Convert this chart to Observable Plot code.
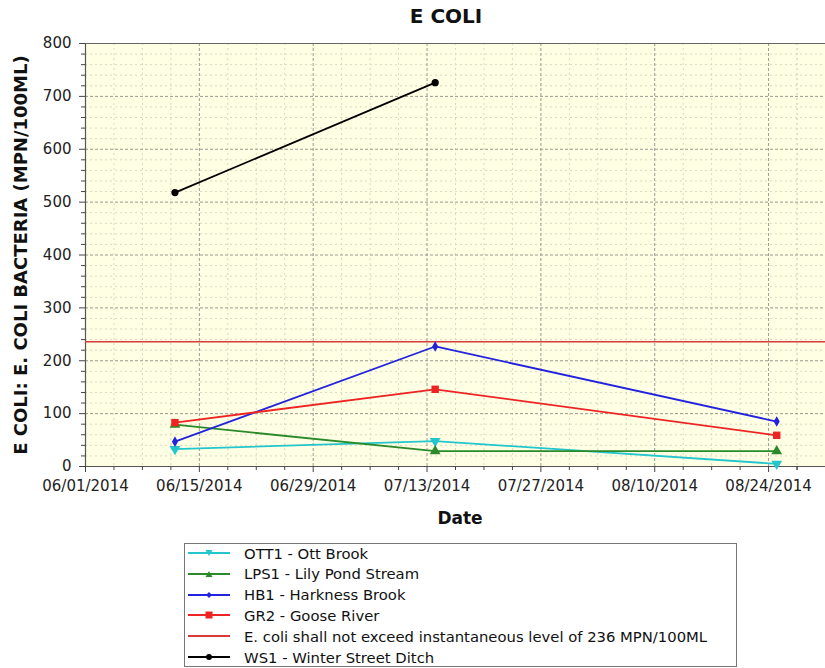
<!DOCTYPE html>
<html>
<head>
<meta charset="utf-8">
<script src="https://cdn.jsdelivr.net/npm/d3@7"></script>
<script src="https://cdn.jsdelivr.net/npm/@observablehq/plot@0.6"></script>
<style>
  html, body { margin: 0; padding: 0; background: #fff; overflow: hidden; }
  #wrap { position: relative; width: 825px; height: 668px; font-family: "DejaVu Sans", sans-serif; color: #111; }
  #chart { position: absolute; left: 0; top: 0; }
  .title { position: absolute; left: 346px; width: 200px; top: 6px; text-align: center; font-weight: bold; font-size: 20px; line-height: 20px; }
  .ylab { position: absolute; left: -229px; top: 246px; width: 500px; text-align: center; font-weight: bold; font-size: 18px; line-height: 18px; transform: rotate(-90deg); white-space: nowrap; }
  .xlab { position: absolute; left: 360px; width: 200px; top: 510px; text-align: center; font-weight: bold; font-size: 17px; line-height: 17px; }
  .legend { position: absolute; left: 184px; top: 543px; width: 553px; height: 124px; border: 1px solid #777; box-sizing: border-box; background: #fff; }
  .row { position: absolute; left: 0; height: 20px; display: flex; align-items: center; font-size: 14.8px; white-space: nowrap; }
  .row svg { display: block; margin-left: 3px; margin-right: 14px; }
</style>
</head>
<body>
<div id="wrap">
  <div id="chart"></div>
  <div class="title">E COLI</div>
  <div class="ylab">E COLI: E. COLI BACTERIA (MPN/100ML)</div>
  <div class="xlab">Date</div>
  <div class="legend" id="legend"></div>
</div>
<script>
// ---- data ----
const sampleDates = ["2014-06-12", "2014-07-14", "2014-08-25"];
const ott1 = [33, 48, 5];
const lps1 = [79, 29, 29];
const hb1  = [47, 227, 85];
const gr2  = [83, 146, 59];
const ws1  = [518, 726, null];
const limitValue = 236;

const xTickLabels = ["06/01/2014", "06/15/2014", "06/29/2014", "07/13/2014", "07/27/2014", "08/10/2014", "08/24/2014"];
const yTickValues = [0, 100, 200, 300, 400, 500, 600, 700, 800];
const xDomain = ["2014-06-01", "2014-08-31"];

const seriesNames = ["OTT1 - Ott Brook", "LPS1 - Lily Pond Stream", "HB1 - Harkness Brook", "GR2 - Goose River", "WS1 - Winter Street Ditch"];
const seriesValues = [ott1, lps1, hb1, gr2, ws1];
const seriesColors = ["#22c6cc", "#2a8a2a", "#2323dd", "#ee2424", "#000000"];
const seriesSymbols = ["triangle", "triangle", "diamond", "square", "circle"];
const seriesRotate = [180, 0, 0, 0, 0];
const seriesR = [4, 4, 3.2, 4.2, 3.6];
const limitLabel = "E. coli shall not exceed instantaneous level of 236 MPN/100ML";
const limitColor = "#d83a3a";

// ---- build table ----
const parse = d3.utcParse("%Y-%m-%d");
const parseTick = d3.utcParse("%m/%d/%Y");
const rows = [];
seriesNames.forEach((name, i) => {
  seriesValues[i].forEach((v, j) => {
    if (v != null) rows.push({series: name, date: parse(sampleDates[j]), value: v});
  });
});

const xMajor = xTickLabels.map(parseTick);
const xMinor = [];
xMajor.forEach(d => { for (let k = 1; k < 4; k++) xMinor.push(new Date(+d + k * 3.5 * 864e5)); });
const last = xMajor[xMajor.length - 1];
xMinor.push(new Date(+last + 3.5 * 864e5));
const yMinor = d3.range(0, 801, 20).filter(v => v % 100 !== 0);

const x0 = parse(xDomain[0]), x1 = parse(xDomain[1]);
const fmt = d3.utcFormat("%m/%d/%Y");

const marks = [
  Plot.frame({fill: "#ffffe3", stroke: null}),
  Plot.gridY(yMinor, {stroke: "#d8d8c4", strokeOpacity: 1, strokeDasharray: "2,3"}),
  Plot.gridX(xMinor, {stroke: "#d8d8c4", strokeOpacity: 1, strokeDasharray: "2,3"}),
  Plot.gridY(yTickValues, {stroke: "#9a9a90", strokeOpacity: 1, strokeDasharray: "3,2"}),
  Plot.gridX(xMajor, {stroke: "#9a9a90", strokeOpacity: 1, strokeDasharray: "3,2"}),
  Plot.ruleY([800], {stroke: "#666", strokeWidth: 1.2}),
  Plot.ruleY([0], {stroke: "#555", strokeWidth: 1.2}),
  Plot.ruleX([x0], {stroke: "#555", strokeWidth: 1.2}),
  Plot.axisY(yTickValues, {tickSize: 6, tickPadding: 8, label: null, stroke: "#444"}),
  Plot.axisY(yMinor, {tickSize: 4, tickFormat: () => "", label: null, stroke: "#444"}),
  Plot.axisX(xMajor, {tickSize: 6, tickPadding: 8, tickFormat: fmt, label: null, stroke: "#444"}),
  Plot.axisX(xMinor, {tickSize: 4, tickFormat: () => "", label: null, stroke: "#444"}),
  Plot.ruleY([limitValue], {stroke: limitColor, strokeWidth: 1.6})
];

seriesNames.forEach((name, i) => {
  const data = rows.filter(r => r.series === name);
  marks.push(Plot.line(data, {x: "date", y: "value", stroke: seriesColors[i], strokeWidth: 1.8}));
  marks.push(Plot.dot(data, {x: "date", y: "value", symbol: seriesSymbols[i], rotate: seriesRotate[i], r: seriesR[i], fill: seriesColors[i], stroke: "none"}));
});

const chart = Plot.plot({
  width: 825,
  height: 535,
  marginLeft: 85,
  marginRight: 0,
  marginTop: 43,
  marginBottom: 69,
  x: {type: "utc", domain: [x0, x1]},
  y: {domain: [0, 800]},
  style: {fontFamily: "DejaVu Sans, sans-serif", fontSize: "15px", color: "#222", background: "transparent", overflow: "visible"},
  marks
});
document.getElementById("chart").appendChild(chart);

// ---- legend ----
const legendItems = [
  {label: seriesNames[0], color: seriesColors[0], symbol: "tri-down"},
  {label: seriesNames[1], color: seriesColors[1], symbol: "tri-up"},
  {label: seriesNames[2], color: seriesColors[2], symbol: "diamond"},
  {label: seriesNames[3], color: seriesColors[3], symbol: "square"},
  {label: limitLabel, color: limitColor, symbol: null},
  {label: seriesNames[4], color: seriesColors[4], symbol: "circle"}
];
const legend = d3.select("#legend");
legendItems.forEach((it, i) => {
  const row = legend.append("div").attr("class", "row").style("top", (-1 + i * 20.8) + "px");
  const svg = row.append("svg").attr("width", 42).attr("height", 12);
  svg.append("line").attr("x1", 0).attr("x2", 42).attr("y1", 6).attr("y2", 6).attr("stroke", it.color).attr("stroke-width", 2);
  const cx = 21, cy = 6;
  if (it.symbol === "tri-down") svg.append("path").attr("d", `M${cx-3.5},${cy-3}L${cx+3.5},${cy-3}L${cx},${cy+3}Z`).attr("fill", it.color);
  if (it.symbol === "tri-up") svg.append("path").attr("d", `M${cx-3.5},${cy+3}L${cx+3.5},${cy+3}L${cx},${cy-3}Z`).attr("fill", it.color);
  if (it.symbol === "diamond") svg.append("path").attr("d", `M${cx},${cy-3}L${cx+3},${cy}L${cx},${cy+3}L${cx-3},${cy}Z`).attr("fill", it.color);
  if (it.symbol === "square") svg.append("rect").attr("x", cx-3.5).attr("y", cy-3.5).attr("width", 7).attr("height", 7).attr("fill", it.color);
  if (it.symbol === "circle") svg.append("circle").attr("cx", cx).attr("cy", cy).attr("r", 3).attr("fill", it.color);
  row.append("span").text(it.label);
});
</script>
</body>
</html>
